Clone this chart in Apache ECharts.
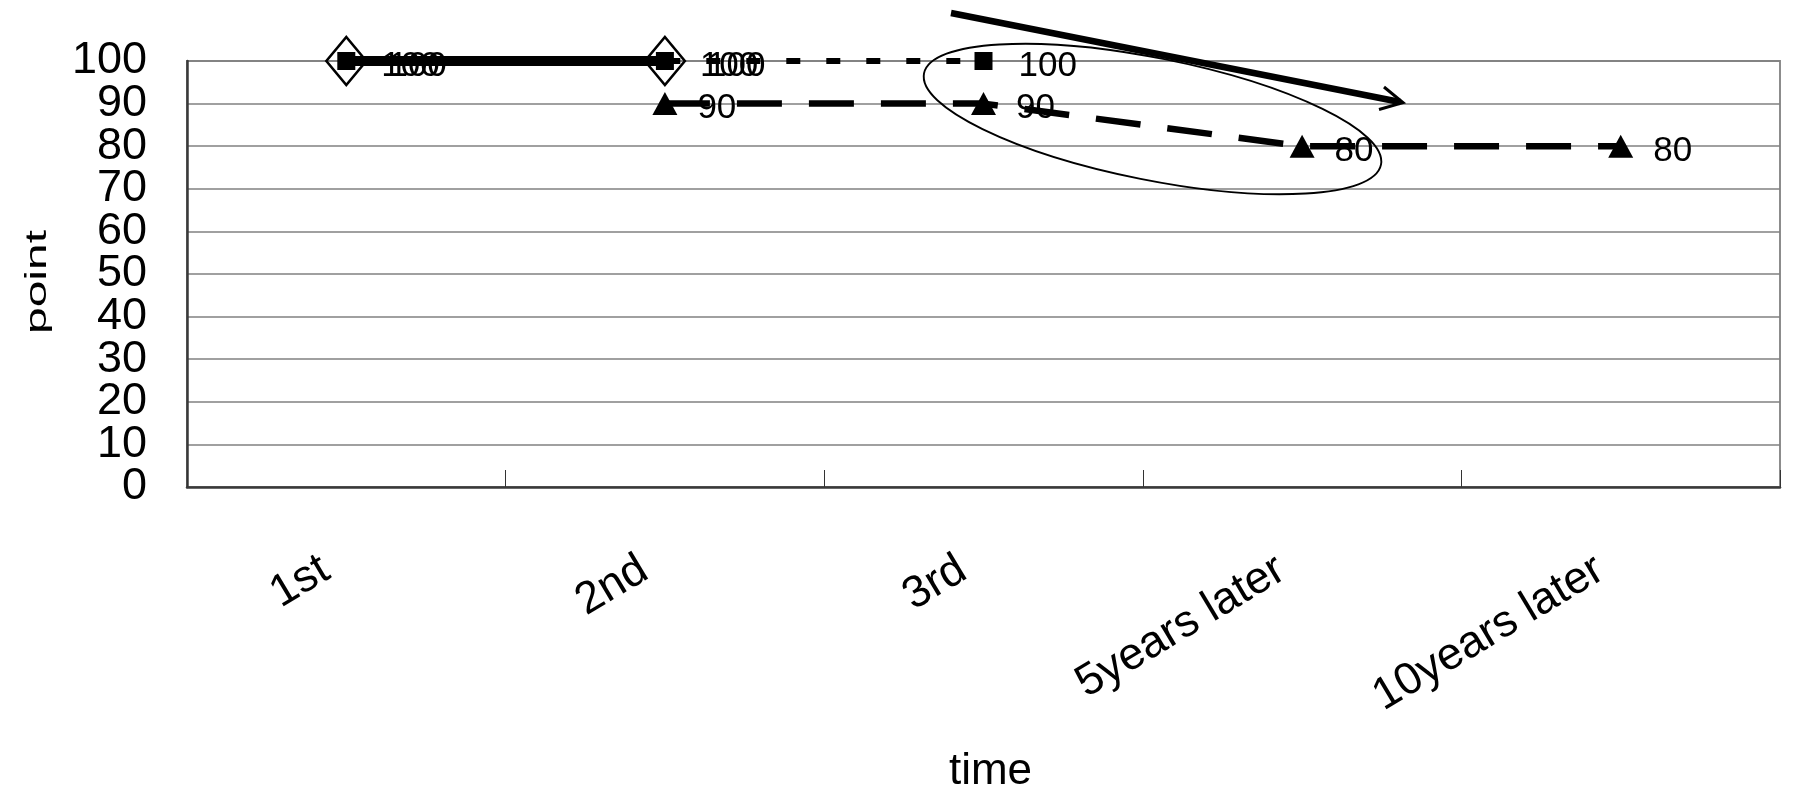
<!DOCTYPE html>
<html>
<head>
<meta charset="utf-8">
<script src="https://cdn.jsdelivr.net/npm/echarts@6/dist/echarts.min.js"></script>
<style>
  html, body { margin: 0; padding: 0; background: #ffffff; }
  #chart { width: 1793px; height: 790px; }
</style>
</head>
<body>
<div id="chart"></div>
<script>
// Categories along the time axis
const categories = ['1st', '2nd', '3rd', '5years later', '10years later'];

// Scores for each group (null = not measured)
const diamondValues  = [100, 100, null, null, null];
const squareValues   = [100, 100, 100, null, null];
const triangleValues = [null, 90, 90, 80, 80];

// Value axis range
const yMin = 0;
const yMax = 100;
const yStep = 10;

const FONT = '"Liberation Sans", Arial, sans-serif';

const chart = echarts.init(document.getElementById('chart'), null, { renderer: 'canvas' });

const labelBase = {
  show: true,
  position: 'right',
  color: '#000',
  fontSize: 35,
  fontFamily: FONT,
  offset: [0, 5]
};

const yLabelStyle = {
  margin: 40, fontSize: 45, fontFamily: FONT, color: '#000', padding: [9, 0, 0, 0]
};

chart.setOption({
  animation: false,
  backgroundColor: '#ffffff',
  grid: {
    left: 187,
    right: 13,
    top: 61,
    bottom: 303,
    containLabel: false,
    outerBoundsMode: 'none',
    show: true,
    borderColor: '#8c8c8c',
    borderWidth: 2,
    backgroundColor: 'transparent'
  },
  xAxis: {
    type: 'category',
    data: categories,
    boundaryGap: true,
    name: 'time',
    nameLocation: 'middle',
    nameGap: 285,
    nameTextStyle: {
      fontSize: 44, fontFamily: FONT, color: '#000',
      verticalAlign: 'middle', padding: [0, 0, 0, 14]
    },
    axisLine: { show: true, lineStyle: { color: '#3a3a3a', width: 2.5 } },
    axisTick: { show: true, inside: true, length: 17, lineStyle: { color: '#333', width: 1 } },
    axisLabel: {
      interval: 0,
      rotate: 31,
      margin: 67,
      padding: [0, 24, 0, 0],
      fontSize: 45,
      fontFamily: FONT,
      color: '#000',
      hideOverlap: false
    },
    splitLine: { show: false }
  },
  yAxis: [
    {
      // main value axis: gridlines and the inner tick labels
      type: 'value',
      position: 'left',
      min: yMin,
      max: yMax,
      interval: yStep,
      axisLine: { show: true, lineStyle: { color: '#3a3a3a', width: 2.5 } },
      axisTick: { show: false },
      axisLabel: Object.assign({}, yLabelStyle, { showMinLabel: false, showMaxLabel: false }),
      splitLine: { show: true, lineStyle: { color: '#808080', width: 1.5 } }
    },
    {
      // same scale, carries only the end labels (0 and 100)
      type: 'value',
      position: 'left',
      offset: 0,
      min: yMin,
      max: yMax,
      interval: yStep,
      axisLine: { show: false },
      axisTick: { show: false },
      splitLine: { show: false },
      axisLabel: Object.assign({}, yLabelStyle, {
        showMinLabel: true,
        showMaxLabel: true,
        formatter: function (v) { return (v === yMin || v === yMax) ? String(v) : ''; }
      })
    }
  ],
  series: [
    {
      name: 'diamond',
      type: 'line',
      data: diamondValues,
      symbol: 'diamond',
      symbolSize: [40, 48],
      z: 2,
      lineStyle: { color: '#000', width: 10, type: 'solid', cap: 'butt' },
      itemStyle: { color: 'rgba(255,255,255,0)', borderColor: '#000', borderWidth: 2.5 },
      label: Object.assign({}, labelBase, { distance: 21 }),
      emphasis: { disabled: true }
    },
    {
      name: 'square',
      type: 'line',
      data: squareValues,
      symbol: 'rect',
      symbolSize: 18,
      z: 3,
      lineStyle: { color: '#000', width: 6, type: [14, 26], cap: 'butt' },
      itemStyle: { color: '#000', borderWidth: 0 },
      label: Object.assign({}, labelBase, { distance: 26 }),
      emphasis: { disabled: true }
    },
    {
      name: 'triangle',
      type: 'line',
      data: triangleValues,
      symbol: 'triangle',
      symbolSize: [25, 23],
      z: 3,
      lineStyle: { color: '#000', width: 6.5, type: [45, 27], cap: 'butt' },
      itemStyle: { color: '#000', borderWidth: 0 },
      label: Object.assign({}, labelBase, { distance: 20 }),
      emphasis: { disabled: true }
    }
  ],
  graphic: [
    // vertical axis title
    {
      type: 'text',
      x: 38,
      y: 282,
      rotation: Math.PI / 2,
      scaleY: 0.62,
      style: {
        text: 'point',
        fontSize: 48,
        fontFamily: FONT,
        fill: '#000',
        align: 'center',
        verticalAlign: 'middle',
        textAlign: 'center',
        textVerticalAlign: 'middle'
      },
      z: 10
    },
    // ellipse highlighting the drop
    {
      type: 'ellipse',
      x: 1152.5,
      y: 119,
      rotation: -0.197,
      shape: { cx: 0, cy: 0, rx: 233, ry: 61 },
      style: { fill: null, stroke: '#000', lineWidth: 1.9 },
      z: 10
    },
    // trend arrow shaft
    {
      type: 'line',
      shape: { x1: 951, y1: 13, x2: 1400, y2: 102 },
      style: { stroke: '#000', lineWidth: 6.5 },
      z: 10
    },
    // trend arrow head
    {
      type: 'polyline',
      shape: { points: [[1384, 87], [1403, 102.7], [1379, 109.5]] },
      style: { stroke: '#000', lineWidth: 3, fill: null },
      z: 10
    }
  ]
});
</script>
</body>
</html>
